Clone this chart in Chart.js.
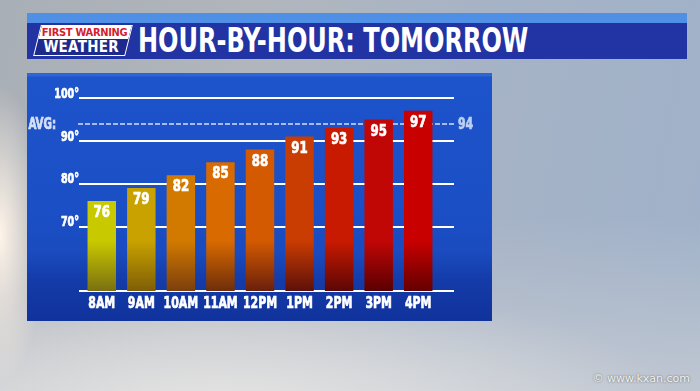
<!DOCTYPE html>
<html>
<head>
<meta charset="utf-8">
<script src="https://cdn.jsdelivr.net/npm/chart.js@4.4.0/dist/chart.umd.min.js"></script>
<style>
html, body { margin: 0; padding: 0; }
body {
    width: 700px; height: 391px; overflow: hidden; position: relative;
    background:
        radial-gradient(ellipse 45px 150px at 0px 235px, rgba(255,244,232,1), rgba(255,244,232,0) 100%),
        radial-gradient(ellipse 460px 130px at 220px 410px, rgba(230,229,228,1), rgba(230,229,228,0) 100%),
        linear-gradient(180deg, rgba(0,0,0,0) 55%, rgba(205,208,213,0.7) 100%),
        linear-gradient(100deg, #a9afb6 0%, #b1b6bd 35%, #a6b3c6 65%, #9fb1c9 100%);
    font-family: 'DejaVu Sans Condensed', sans-serif;
}
.strip { position: absolute; left: 27px; top: 13px; width: 660px; height: 10px; background: #4f8fe6; }
.titlebar { position: absolute; left: 27px; top: 23px; width: 660px; height: 36px; background: #2233a3; }
.title {
    position: absolute; left: 138px; top: 23px; height: 36px; line-height: 36px;
    font-size: 33px; font-weight: bold; color: #fff; white-space: nowrap;
    transform-origin: left center;
}
.logo {
    position: absolute; left: 37px; top: 25px; width: 90px; height: 29px;
    transform: skewX(-14deg); border: 1.5px solid #fff; background: #1d2a8c; overflow: hidden;
}
.logo div { white-space: nowrap; text-align: center; font-weight: bold; }
.logo .lt {
    background: #fff; color: #d21f2d; height: 13px; line-height: 14px;
    font-size: 11px; letter-spacing: -0.3px;
}
.logo .lb {
    color: #fff; height: 16px; line-height: 16px;
    font-size: 15px; letter-spacing: 0.3px;
}
.logo span { display: inline-block; transform: skewX(14deg); }
.panel {
    position: absolute; left: 27px; top: 73px; width: 465px; height: 248px;
    background: linear-gradient(180deg, #2d64d8 0px, #2d64d8 3px, #1d53cb 4px, #1b4fc6 55%, #1a4bbf 72%, #143ba8 84%, #10329c 100%);
}
#chart { position: absolute; left: 27px; top: 73px; }
.mark {
    position: absolute; right: 10px; bottom: 6px; font-family: 'DejaVu Sans', sans-serif;
    font-size: 11px; color: #f2f2f2; text-shadow: 0 0 2px #555;
}
</style>
</head>
<body>
<div class="strip"></div>
<div class="titlebar"></div>
<div class="logo"><div class="lt"><span>FIRST WARNING</span></div><div class="lb"><span>WEATHER</span></div></div>
<div class="title" id="title">HOUR-BY-HOUR: TOMORROW</div>
<div class="panel"></div>
<canvas id="chart" width="465" height="248"></canvas>
<div class="mark">&copy; www.kxan.com</div>
<script>
// values
var hours = ['8AM', '9AM', '10AM', '11AM', '12PM', '1PM', '2PM', '3PM', '4PM'];
var temps = [76, 79, 82, 85, 88, 91, 93, 95, 97];
var tickValues = [70, 80, 90, 100];
var avgTemp = 94;
var yMin = 55, yMax = 100;

var topColors = ['#c9c900', '#c9a200', '#d27a00', '#d96a00', '#d35a00', '#c93c02', '#c81a00', '#c10606', '#c80000'];
var bottomColors = ['#7a7010', '#7e5e06', '#7c3e0c', '#6e2e0a', '#6a200c', '#5e100a', '#5c0606', '#5a0000', '#640000'];

var FONT = "'DejaVu Sans Condensed', sans-serif";

// fit the title to its width in the picture
var t = document.getElementById('title');
t.style.transform = 'scaleX(' + (390 / t.offsetWidth) + ')';

// narrow heavy text, like the TV graphic font
function tvText(c, str, x, y, align, size, color, sx) {
    c.save();
    c.translate(x, y);
    c.scale(sx, 1);
    c.font = 'bold ' + size + 'px ' + FONT;
    c.fillStyle = color;
    c.strokeStyle = color;
    c.lineWidth = 0.7;
    c.textAlign = align;
    c.textBaseline = 'middle';
    c.fillText(str, 0, 0);
    c.strokeText(str, 0, 0);
    c.restore();
}

function barColor(ctx) {
    var area = ctx.chart.chartArea;
    var i = ctx.dataIndex;
    if (!area) return topColors[i];
    var h = area.bottom - area.top;
    var g = ctx.chart.ctx.createLinearGradient(0, area.top + h * 0.74, 0, area.bottom);
    g.addColorStop(0, topColors[i]);
    g.addColorStop(1, bottomColors[i]);
    return g;
}

var tvLines = {
    id: 'tvLines',
    beforeDatasetsDraw: function(chart) {
        var c = chart.ctx, a = chart.chartArea, y = chart.scales.y, x = chart.scales.x;
        var x0 = a.left - 3, x1 = a.right + 16;
        c.save();
        c.strokeStyle = '#ffffff';
        c.lineWidth = 2;
        [yMin].concat(tickValues).forEach(function(v) {
            var py = Math.round(y.getPixelForValue(v));
            c.beginPath();
            c.moveTo(x0, py);
            c.lineTo(x1, py);
            c.stroke();
        });
        // average line
        var ay = Math.round(y.getPixelForValue(avgTemp));
        c.strokeStyle = '#d4e0f6';
        c.lineWidth = 1.5;
        c.setLineDash([5, 2]);
        c.beginPath();
        c.moveTo(x0 - 1, ay);
        c.lineTo(x1, ay);
        c.stroke();
        c.restore();

        tvText(c, 'AVG:', a.left - 26, ay + 1, 'right', 15, '#d4e0f6', 0.76);
        tvText(c, String(avgTemp), a.right + 20, ay + 1, 'left', 16, '#bcd0f2', 0.76);
        tickValues.forEach(function(v) {
            tvText(c, v + '\u00b0', a.left - 3, y.getPixelForValue(v) - 4, 'right', 14, '#ffffff', 0.76);
        });
        hours.forEach(function(h, i) {
            tvText(c, h, x.getPixelForValue(i), a.bottom + 13, 'center', 16, '#ffffff', 0.76);
        });
    },
    afterDatasetsDraw: function(chart) {
        var bars = chart.getDatasetMeta(0).data;
        bars.forEach(function(b, i) {
            tvText(chart.ctx, String(temps[i]), b.x, b.y + 12, 'center', 16, '#ffffff', 0.82);
        });
    }
};

var chart = new Chart(document.getElementById('chart').getContext('2d'), {
    type: 'bar',
    data: {
        labels: hours,
        datasets: [{
            data: temps,
            backgroundColor: barColor,
            borderWidth: 0,
            categoryPercentage: 1,
            barPercentage: 0.72
        }]
    },
    options: {
        responsive: false,
        animation: false,
        layout: { padding: { left: 0, right: 54, top: 25, bottom: 0 } },
        plugins: { legend: { display: false }, tooltip: { enabled: false } },
        scales: {
            x: {
                grid: { display: false, drawTicks: false },
                border: { display: false },
                ticks: { display: false },
                afterFit: function(s) { s.height = 30; }
            },
            y: {
                min: yMin,
                max: yMax,
                grid: { display: false, drawTicks: false },
                border: { display: false },
                afterBuildTicks: function(s) {
                    s.ticks = [yMin].concat(tickValues).map(function(v) { return { value: v }; });
                },
                ticks: { display: false },
                afterFit: function(s) { s.width = 55; }
            }
        }
    },
    plugins: [tvLines]
});
</script>
</body>
</html>
